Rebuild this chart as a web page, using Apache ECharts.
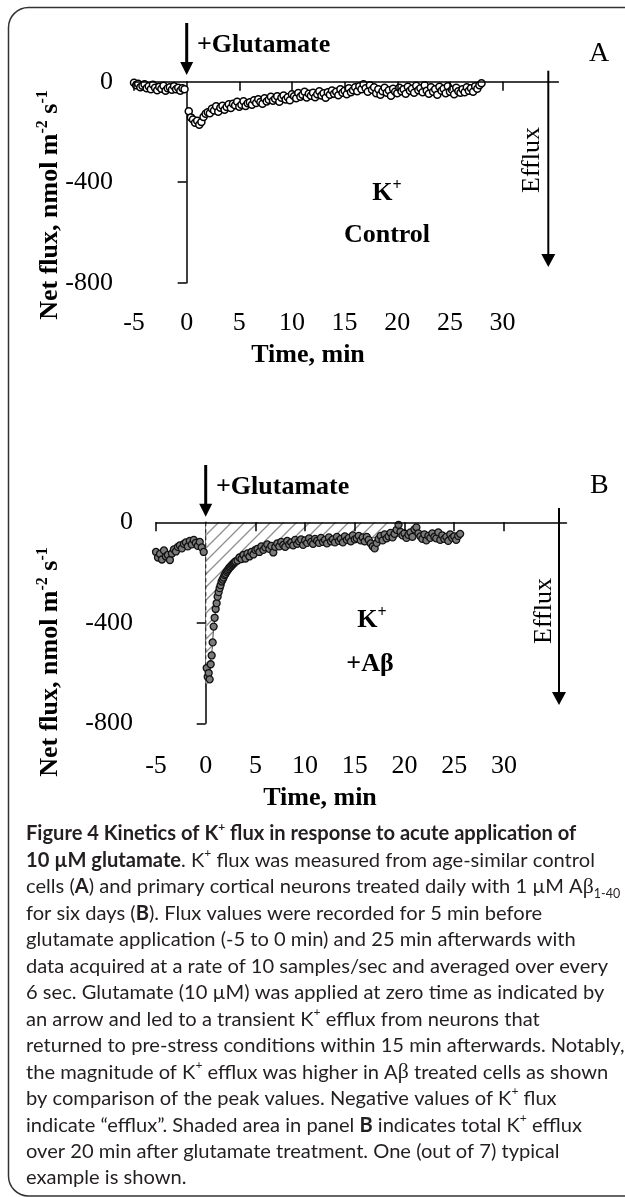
<!DOCTYPE html>
<html><head><meta charset="utf-8">
<script src="https://cdn.jsdelivr.net/npm/echarts@6/dist/echarts.min.js"></script>
<style>html,body{margin:0;padding:0;background:#fff}#c{width:625px;height:1197px}</style>
</head><body><div id="c"></div>
<script>
// ---------------- data ----------------
const xTickLabels = [-5, 0, 5, 10, 15, 20, 25, 30];
const xTickMarks = [-5, 5, 10, 15, 20, 25, 30];
const yTickLabels = [0, -400, -800];
const yTickMarks = [-400, -800];

// Panel A (control), flux in nmol m^-2 s^-1, one reading every 0.2 min
const stepA = 0.2;
const startA_pre = -5.0;
const fluxA_pre = [-4,-14,-8,-22,-16,-10,-26,-18,-30,-12,-24,-34,-20,-28,-16,-36,-26,-22,-32,-18,-30,-24,-36,-26,-30];
const startA_post = 0.2;
const fluxA_post = [
 -118,-142,-150,-163,-155,-171,-160,-140,-128,-122,
 -126,-108,-115,-98,-120,-104,-96,-112,-101,-90,
 -105,-88,-94,-80,-100,-92,-78,-97,-86,-82,
 -92,-74,-85,-70,-81,-88,-66,-79,-72,-60,
 -76,-68,-58,-80,-64,-55,-71,-62,-74,-50,
 -58,-66,-45,-60,-52,-40,-63,-48,-56,-44,
 -62,-50,-38,-55,-46,-64,-42,-52,-35,-48,
 -40,-54,-30,-44,-36,-50,-26,-42,-34,-22,
 -38,-18,-30,-10,-26,-40,-14,-32,-22,-46,
 -30,-52,-38,-24,-44,-34,-56,-28,-40,-46,
 -24,-38,-30,-48,-20,-36,-28,-44,-16,-34,
 -26,-42,-14,-36,-48,-22,-40,-30,-52,-20,
 -36,-28,-46,-18,-40,-32,-50,-24,-38,-44,
 -30,-42,-22,-36,-26,-40,-18,-28,-14,-6];

// Panel B (+Abeta)
const stepB = 0.2;
const startB_pre = -5.0;
const fluxB_pre = [-118,-140,-126,-148,-112,-136,-130,-150,-124,-108,-116,-98,-92,-104,-86,-80,-96,-74,-88,-70,-82,-94,-78,-100,-118];
const startB_fast = 0.1, stepB_fast = 0.1;
const fluxB_fast = [-580,-615,-600,-625,-565,-530,-478,-415,-380,-345,
 -322,-296,-278,-262,-250,-236,-228,-220,-210,-205,
 -197,-192,-186,-180,-177,-172,-168,-164,-160,-156];
const startB_slow = 3.2;
const fluxB_slow = [
 -152,-140,-146,-130,-144,-124,-136,-118,-128,-110,
 -106,-118,-96,-110,-100,-88,-106,-94,-120,-98,
 -84,-96,-78,-90,-98,-74,-88,-80,-92,-70,
 -86,-76,-68,-90,-72,-82,-64,-78,-86,-66,
 -74,-82,-62,-78,-70,-84,-60,-76,-68,-80,
 -58,-74,-66,-80,-56,-70,-62,-76,-52,-68,
 -64,-54,-72,-60,-76,-58,-70,-84,-96,-104,
 -82,-66,-54,-72,-48,-64,-56,-42,-60,-46,
 -30,-10,-38,-52,-44,-62,-50,-40,-58,-28,
 -20,-44,-56,-66,-48,-72,-54,-62,-44,-58,
 -64,-40,-70,-52,-66,-58,-74,-48,-62,-56,
 -70,-54,-46];
// fitted curve bounding the shaded (total efflux) area, 0-20 min
const fitB_time = [0,0.2,0.4,0.6,0.8,1.0,1.2,1.5,2,2.5,3,4,5,6,8,10,12,14,16,18,20];
const fitB_flux = [-660,-635,-590,-520,-430,-355,-305,-255,-207,-180,-160,-136,-116,-103,-87,-78,-72,-67,-63,-59,-56];

// caption lines (rich-text tokens)
const captionLines = [
 '{b|Figure 4 Kinetics of K}{bs|+}{b| flux in response to acute application of}',
 '{b|10 µM glutamate}{r|. K}{rs|+}{r| flux was measured from age-similar control}',
 '{r|cells (}{b|A}{r|) and primary cortical neurons treated daily with 1 µM A}{g|β}{sub|1-40}',
 '{r|for six days (}{b|B}{r|). Flux values were recorded for 5 min before}',
 '{r|glutamate application (-5 to 0 min) and 25 min afterwards with}',
 '{r|data acquired at a rate of 10 samples/sec and averaged over every}',
 '{r|6 sec. Glutamate (10 µM) was applied at zero time as indicated by}',
 '{r|an arrow and led to a transient K}{rs|+}{r| efflux from neurons that}',
 '{r|returned to pre-stress conditions within 15 min afterwards. Notably,}',
 '{r|the magnitude of K}{rs|+}{r| efflux was higher in A}{g|β}{r| treated cells as shown}',
 '{r|by comparison of the peak values. Negative values of K}{rs|+}{r| flux}',
 '{r|indicate “efflux”. Shaded area in panel }{b|B}{r| indicates total K}{rs|+}{r| efflux}',
 '{r|over 20 min after glutamate treatment. One (out of 7) typical}',
 '{r|example is shown.}'
];

// ---------------- build ----------------
function toPairs(start, step, vals) { return vals.map((v, i) => [+(start + i * step).toFixed(2), v]); }
const pairsA = toPairs(startA_pre, stepA, fluxA_pre).concat(toPairs(startA_post, stepA, fluxA_post));
const pairsB = toPairs(startB_pre, stepB, fluxB_pre)
  .concat(toPairs(startB_fast, stepB_fast, fluxB_fast))
  .concat(toPairs(startB_slow, stepB, fluxB_slow));
const fitPairs = fitB_time.map((t, i) => [t, fitB_flux[i]]);

const F = "'Liberation Serif','Times New Roman',serif";
const CF = "Lato,'Noto Sans',sans-serif";

// hatch pattern
const hc = document.createElement('canvas'); hc.width = 13; hc.height = 13;
(function () {
  const g = hc.getContext('2d');
  g.fillStyle = '#fff'; g.fillRect(0, 0, 13, 13);
  g.strokeStyle = '#8f8f8f'; g.lineWidth = 1.3;
  g.beginPath();
  g.moveTo(0, 13); g.lineTo(13, 0);
  g.moveTo(-2, 2); g.lineTo(2, -2);
  g.moveTo(11, 15); g.lineTo(15, 11);
  g.stroke();
})();

// caption size fitted to the measured line width
const mctx = document.createElement('canvas').getContext('2d');
mctx.font = '100px Lato';
const capSize = 100 * 550 / mctx.measureText('glutamate application (-5 to 0 min) and 25 min afterwards with').width;

function xLabelAxis(gi, max, margin) {
  return { gridIndex: gi, type: 'value', min: -5, max: max, position: 'bottom',
    axisLine: { show: false, onZero: false }, axisTick: { show: false }, splitLine: { show: false },
    axisLabel: { customValues: xTickLabels, margin: margin, fontFamily: F, fontSize: 26, color: '#000' } };
}
function xZeroAxis(gi, max) {
  return { gridIndex: gi, type: 'value', min: -5, max: max, position: 'top', z: 5,
    axisLine: { show: true, onZero: true, lineStyle: { color: '#000', width: 1.5 } },
    axisTick: { show: true, inside: true, length: 9, customValues: xTickMarks, lineStyle: { color: '#000', width: 1.5 } },
    axisLabel: { show: false }, splitLine: { show: false } };
}
function yLabelAxis(gi, margin) {
  return { gridIndex: gi, type: 'value', min: -800, max: 0, position: 'left',
    axisLine: { show: false, onZero: false }, axisTick: { show: false }, splitLine: { show: false },
    axisLabel: { customValues: yTickLabels, margin: margin, fontFamily: F, fontSize: 26, color: '#000' } };
}
function yZeroAxis(gi) {
  return { gridIndex: gi, type: 'value', min: -800, max: 0, position: 'right',
    axisLine: { show: true, onZero: true, lineStyle: { color: '#000', width: 1.5 } },
    axisTick: { show: true, inside: true, length: 9, customValues: yTickMarks, lineStyle: { color: '#000', width: 1.5 } },
    axisLabel: { show: false }, splitLine: { show: false } };
}

const richChart = {
  n: { fontFamily: F, fontSize: 26, lineHeight: 30 },
  na: { fontFamily: F, fontSize: 28, lineHeight: 30 },
  b: { fontFamily: F, fontSize: 26, fontWeight: 'bold', lineHeight: 30 },
  bs: { fontFamily: F, fontSize: 16, fontWeight: 'bold', lineHeight: 16, verticalAlign: 'top' }
};
const richCap = {
  r: { fontFamily: CF, fontSize: capSize, lineHeight: capSize * 1.3, fill: '#231f20' },
  b: { fontFamily: CF, fontSize: capSize, fontWeight: 'bold', lineHeight: capSize * 1.3, fill: '#231f20' },
  rs: { fontFamily: CF, fontSize: capSize * 0.6, lineHeight: capSize * 0.6, verticalAlign: 'top', fill: '#231f20' },
  bs: { fontFamily: CF, fontSize: capSize * 0.6, fontWeight: 'bold', lineHeight: capSize * 0.6, verticalAlign: 'top', fill: '#231f20' },
  g: { fontFamily: F, fontSize: capSize * 1.08, lineHeight: capSize * 1.3, fill: '#231f20' },
  sub: { fontFamily: CF, fontSize: capSize * 0.62, lineHeight: capSize * 0.62, verticalAlign: 'bottom', fill: '#231f20' }
};

function T(x, y, text, rich, align, rot) {
  return { type: 'text', x: x, y: y, rotation: rot || 0, silent: true, z: 10,
    style: { text: text, rich: rich, fill: '#000', align: align || 'center', verticalAlign: 'middle',
      textAlign: align || 'center', textVerticalAlign: 'middle' } };
}
function arrow(x, y1, y2, w, head, hw) {
  return [
    { type: 'line', silent: true, z: 10, shape: { x1: x, y1: y1, x2: x, y2: y2 - head + 2 }, style: { stroke: '#000', lineWidth: w } },
    { type: 'polygon', silent: true, z: 10, shape: { points: [[x - hw, y2 - head], [x + hw, y2 - head], [x, y2]] }, style: { fill: '#000' } }
  ];
}

const yTitle = '{b|Net flux, nmol m}{bs|-2}{b| s}{bs|-1}';
const graphics = [
  { type: 'rect', silent: true, shape: { x: 8.5, y: 7.5, width: 640, height: 1188.5, r: 20 }, style: { fill: 'none', stroke: '#333', lineWidth: 1.5 } },
  // panel A
  T(197, 45, '{b|+Glutamate}', richChart, 'left'),
  T(589, 54, '{na|A}', richChart, 'left'),
  T(387, 193, '{b|K}{bs|+}', richChart),
  T(387, 235, '{b|Control}', richChart),
  T(532, 160, '{n|Efflux}', richChart, 'center', Math.PI / 2),
  T(50, 205, yTitle, richChart, 'center', Math.PI / 2),
  T(308, 355, '{b|Time, min}', richChart),
  // panel B
  T(216, 487, '{b|+Glutamate}', richChart, 'left'),
  T(590, 486, '{na|B}', richChart, 'left'),
  T(372, 620, '{b|K}{bs|+}', richChart),
  T(370, 664, '{b|+Aβ}', richChart),
  T(544, 611, '{n|Efflux}', richChart, 'center', Math.PI / 2),
  T(50, 662, yTitle, richChart, 'center', Math.PI / 2),
  T(320, 798, '{b|Time, min}', richChart)
].concat(arrow(186.7, 23, 75, 3, 13, 6.5))
 .concat(arrow(548.3, 70.7, 267, 2, 13, 7))
 .concat(arrow(205.7, 465, 516.7, 3, 13, 6.5))
 .concat(arrow(559, 508, 705, 2, 13, 7));

captionLines.forEach((line, i) => {
  graphics.push(T(26, 834 + i * 26.46, line, richCap, 'left'));
});

const option = {
  backgroundColor: '#fff',
  animation: false,
  grid: [
    { left: 134, top: 81.7, width: 424.4, height: 201 },
    { left: 156, top: 522.3, width: 410.5, height: 201 }
  ],
  xAxis: [xLabelAxis(0, 35.3, 27), xZeroAxis(0, 35.3), xLabelAxis(1, 36.3, 30), xZeroAxis(1, 36.3)],
  yAxis: [yLabelAxis(0, 21), yZeroAxis(0), yLabelAxis(1, 23), yZeroAxis(1)],
  series: [
    { type: 'scatter', xAxisIndex: 0, yAxisIndex: 0, data: pairsA, symbol: 'circle', symbolSize: 7,
      itemStyle: { color: '#fff', borderColor: '#000', borderWidth: 1.5, opacity: 1 }, z: 3, silent: true },
    { type: 'line', xAxisIndex: 2, yAxisIndex: 2, data: fitPairs, symbol: 'none', smooth: 0.3, smoothMonotone: 'x',
      lineStyle: { color: '#444', width: 1 },
      areaStyle: { origin: 'end', color: { image: hc, repeat: 'repeat' }, opacity: 1 }, z: 1, silent: true },
    { type: 'line', xAxisIndex: 2, yAxisIndex: 2, data: [[0, 0], [0, fitB_flux[0]]], symbol: 'none',
      lineStyle: { type: [4, 3], color: '#333', width: 1.3 }, z: 1, silent: true },
    { type: 'scatter', xAxisIndex: 2, yAxisIndex: 2, data: pairsB, symbol: 'circle', symbolSize: 7,
      itemStyle: { color: '#7a7a7a', borderColor: '#111', borderWidth: 1.3, opacity: 1 }, z: 3, silent: true }
  ],
  graphic: graphics
};

const chart = echarts.init(document.getElementById('c'), null, { renderer: 'canvas' });
chart.setOption(option);
</script>
</body></html>
